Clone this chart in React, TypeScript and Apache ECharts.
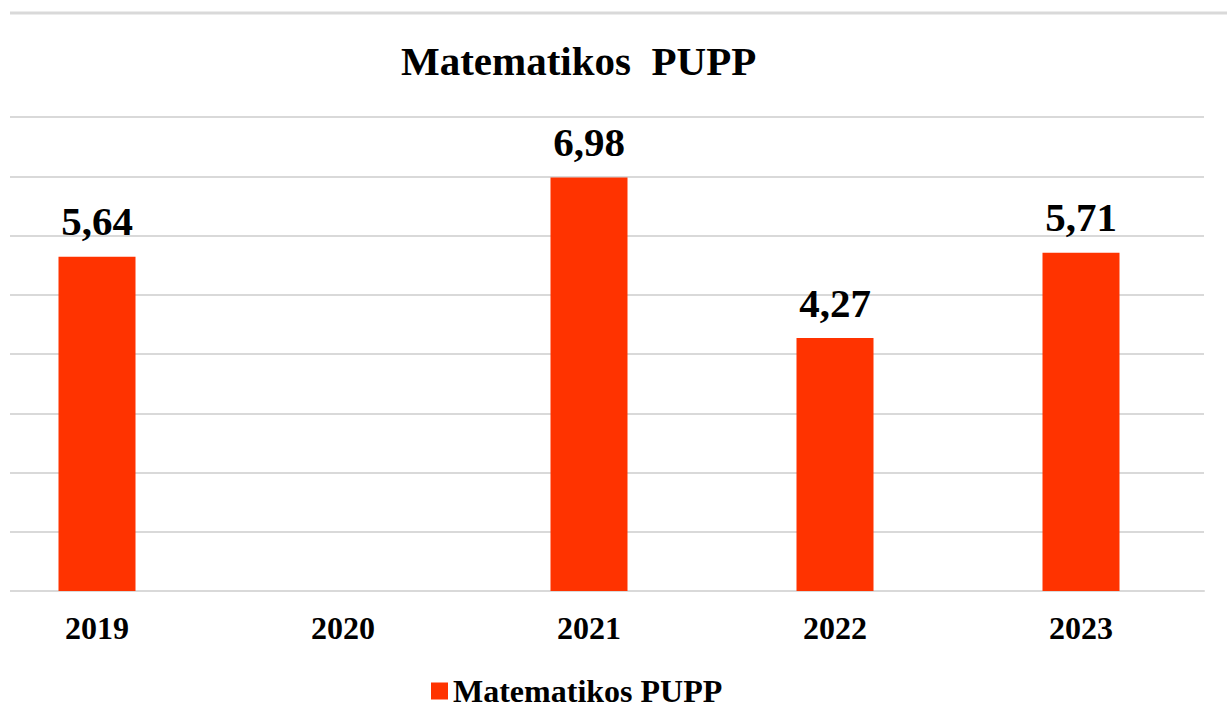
import React, { useEffect, useRef } from "react";
import * as echarts from "echarts";

const categories = ["2019", "2020", "2021", "2022", "2023"];
const values: (number | null)[] = [5.64, null, 6.98, 4.27, 5.71];
const seriesName = "Matematikos PUPP";
const titleText = "Matematikos  PUPP";

const FONT = "'Liberation Serif', 'Times New Roman', serif";
const SHIFT = 26;

export default function App() {
  const ref = useRef<HTMLDivElement>(null);
  useEffect(() => {
    document.body.style.margin = "0";
    document.body.style.overflow = "hidden";
    const chart = echarts.init(ref.current!, null, { renderer: "svg" });
    chart.setOption({
      animation: false,
      backgroundColor: "#ffffff",
      title: {
        text: titleText,
        left: 396 + SHIFT,
        top: 35,
        textStyle: { fontFamily: FONT, fontWeight: "bold", fontSize: 41, color: "#000" },
      },
      legend: {
        left: 426 + SHIFT,
        top: 670,
        icon: "rect",
        itemWidth: 17,
        itemHeight: 17,
        itemGap: 10,
        textStyle: { fontFamily: FONT, fontWeight: "bold", fontSize: 32, color: "#000" },
        data: [seriesName],
      },
      grid: { left: 0, right: 23, top: 117, bottom: 134, containLabel: false },
      xAxis: {
        type: "category",
        data: categories,
        axisLine: { show: true, lineStyle: { color: "#d9d9d9", width: 2 } },
        axisTick: { show: false },
        axisLabel: { fontFamily: FONT, fontWeight: "bold", fontSize: 32, color: "#000", margin: 21 },
      },
      yAxis: {
        type: "value",
        min: 0,
        max: 8,
        interval: 1,
        axisLabel: { show: false },
        axisLine: { show: false },
        axisTick: { show: false },
        splitLine: { lineStyle: { color: "#d9d9d9", width: 2 } },
      },
      series: [
        {
          name: seriesName,
          type: "bar",
          data: values,
          barWidth: 77,
          itemStyle: { color: "#ff3300" },
          label: {
            show: true,
            position: "top",
            distance: 15,
            fontFamily: FONT,
            fontWeight: "bold",
            fontSize: 41,
            color: "#000",
            formatter: (p: any) => String(p.value.toFixed(2)).replace(".", ","),
          },
        },
      ],
      graphic: [
        {
          type: "rect",
          shape: { x: 0, y: 100, width: 10 + SHIFT, height: 500 },
          style: { fill: "#ffffff" },
          z: 100,
        },
        {
          type: "line",
          shape: { x1: 10 + SHIFT, y1: 13, x2: 1227 + SHIFT, y2: 13 },
          style: { stroke: "#d9d9d9", lineWidth: 3 },
          z: 100,
        },
      ],
    });
    return () => chart.dispose();
  }, []);
  return (
    <div
      ref={ref}
      style={{ position: "absolute", left: -SHIFT, top: 0, width: 1227 + SHIFT, height: 725 }}
    />
  );
}
